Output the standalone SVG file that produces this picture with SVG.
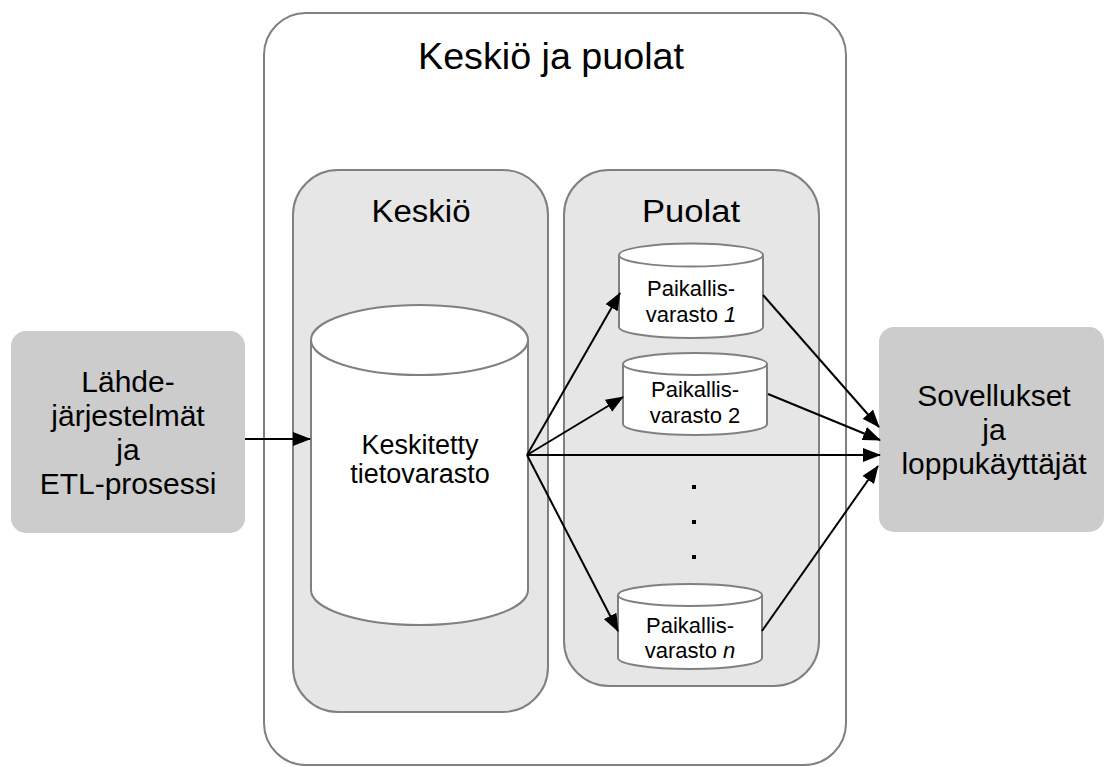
<svg xmlns="http://www.w3.org/2000/svg" width="1106" height="767" viewBox="0 0 1106 767">
  <style>
    .frame { fill: #ffffff; stroke: #808080; stroke-width: 2; }
    .panel { fill: #e6e6e6; stroke: #808080; stroke-width: 2; }
    .side { fill: #cccccc; stroke: none; }
    .db { fill: #ffffff; stroke: #808080; stroke-width: 2; }
    .lbl { font-family: "Liberation Sans", Arial, sans-serif; fill: #000000; text-anchor: middle; }
    .edge { stroke: #000000; stroke-width: 2; fill: none; marker-end: url(#arrow); }
  </style>
  <defs>
    <marker id="arrow" markerUnits="userSpaceOnUse" markerWidth="18" markerHeight="14" refX="17" refY="7" orient="auto">
      <path d="M0,0 L18,7 L0,14 Z" fill="#000000"/>
    </marker>
  </defs>

  <!-- outer frame: hub and spokes -->
  <g id="hub-and-spokes">
    <rect class="frame" x="264" y="13" width="582" height="752" rx="42" ry="42"/>
    <text class="lbl" x="551" y="69" font-size="36" textLength="266" lengthAdjust="spacingAndGlyphs">Keskiö ja puolat</text>
  </g>

  <!-- hub panel -->
  <g id="hub">
    <rect class="panel" x="293" y="170" width="255" height="542" rx="45" ry="45"/>
    <text class="lbl" x="421" y="222" font-size="31" textLength="99" lengthAdjust="spacingAndGlyphs">Keskiö</text>
  </g>

  <!-- spokes panel -->
  <g id="spokes">
    <rect class="panel" x="564" y="170" width="255" height="516" rx="45" ry="45"/>
    <text class="lbl" x="691" y="222" font-size="31" textLength="98" lengthAdjust="spacingAndGlyphs">Puolat</text>
  </g>

  <!-- central warehouse cylinder -->
  <g id="central-warehouse">
    <path class="db" d="M311,340 L311,590 A108.5,35 0 0 0 528,590 L528,340"/>
    <ellipse class="db" cx="419.5" cy="340" rx="108.5" ry="35"/>
    <text class="lbl" x="420" y="454" font-size="27">Keskitetty</text>
    <text class="lbl" x="420" y="483" font-size="27">tietovarasto</text>
  </g>

  <!-- local data marts -->
  <g id="mart-1">
    <path class="db" d="M619,255 L619,327 A72,11 0 0 0 763,327 L763,255"/>
    <ellipse class="db" cx="691" cy="255" rx="72" ry="11.5"/>
    <text class="lbl" x="691" y="296" font-size="22">Paikallis-</text>
    <text class="lbl" x="691" y="322" font-size="22">varasto <tspan font-style="italic">1</tspan></text>
  </g>
  <g id="mart-2">
    <path class="db" d="M623,364 L623,424 A72,11 0 0 0 767,424 L767,364"/>
    <ellipse class="db" cx="695" cy="364" rx="72" ry="11"/>
    <text class="lbl" x="695" y="397" font-size="22">Paikallis-</text>
    <text class="lbl" x="695" y="423" font-size="22">varasto 2</text>
  </g>
  <g id="mart-n">
    <path class="db" d="M618,595 L618,658 A72,11 0 0 0 762,658 L762,595"/>
    <ellipse class="db" cx="690" cy="595" rx="72" ry="11"/>
    <text class="lbl" x="690" y="633" font-size="22">Paikallis-</text>
    <text class="lbl" x="690" y="658" font-size="22">varasto <tspan font-style="italic">n</tspan></text>
  </g>

  <!-- ellipsis dots between marts -->
  <g id="ellipsis" fill="#000000">
    <rect x="692" y="485" width="4" height="4"/>
    <rect x="692" y="520" width="4" height="4"/>
    <rect x="692" y="555" width="4" height="4"/>
  </g>

  <!-- source systems -->
  <g id="sources">
    <rect class="side" x="11" y="331" width="234" height="202" rx="15" ry="15"/>
    <text class="lbl" x="128" y="392" font-size="30">Lähde-</text>
    <text class="lbl" x="128" y="426" font-size="30">järjestelmät</text>
    <text class="lbl" x="128" y="460" font-size="30">ja</text>
    <text class="lbl" x="128" y="494" font-size="30">ETL-prosessi</text>
  </g>

  <!-- applications and end users -->
  <g id="consumers">
    <rect class="side" x="879" y="327" width="225" height="205" rx="15" ry="15"/>
    <text class="lbl" x="994" y="406" font-size="30">Sovellukset</text>
    <text class="lbl" x="994" y="440" font-size="30">ja</text>
    <text class="lbl" x="994" y="474" font-size="30">loppukäyttäjät</text>
  </g>

  <!-- data flows -->
  <g id="connectors">
    <line class="edge" x1="245" y1="439" x2="310" y2="439"/>
    <line class="edge" x1="527" y1="455" x2="620" y2="293"/>
    <line class="edge" x1="527" y1="455" x2="623" y2="397"/>
    <line class="edge" x1="527" y1="455" x2="880" y2="455"/>
    <line class="edge" x1="527" y1="455" x2="618" y2="631"/>
    <line class="edge" x1="763" y1="295" x2="879" y2="427"/>
    <line class="edge" x1="768" y1="394" x2="880" y2="440"/>
    <line class="edge" x1="762" y1="631" x2="878" y2="466"/>
  </g>
</svg>
